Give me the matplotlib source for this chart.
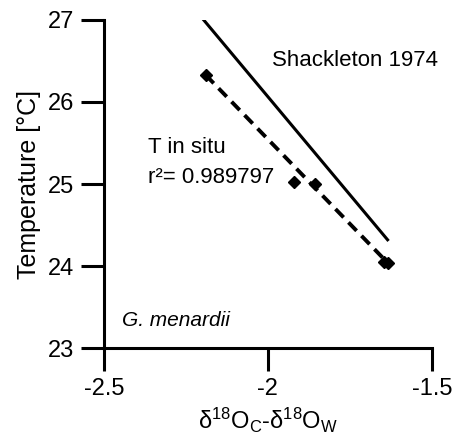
import matplotlib.pyplot as plt

plt.rcParams['font.family'] = ['Liberation Sans', 'DejaVu Sans']
plt.rcParams['mathtext.fontset'] = 'custom'
plt.rcParams['mathtext.rm'] = 'Liberation Sans'
plt.rcParams['mathtext.it'] = 'Liberation Sans:italic'

# measured points (T in situ)
d18o_diff = [-2.19, -1.92, -1.855, -1.645, -1.635]
temp_insitu = [26.33, 25.02, 25.0, 24.05, 24.04]

# regression line through the in situ points
fit_x = [-2.19, -1.635]
fit_y = [26.33, 24.04]

# Shackleton 1974 paleotemperature line
shack_x = [-2.2, -1.635]
shack_y = [27.02, 24.32]

xticks = [-2.5, -2, -1.5]
xtick_labels = ['-2.5', '-2', '-1.5']
yticks = [23, 24, 25, 26, 27]

fig = plt.figure(figsize=(4.56, 4.34), dpi=100)
ax = fig.add_axes([0.228, 0.198, 0.719, 0.756])

ax.plot(shack_x, shack_y, color='black', linewidth=2.2)
ax.plot(fit_x, fit_y, color='black', linewidth=2.8, linestyle=(0, (3, 1.8)))
ax.plot(d18o_diff, temp_insitu, linestyle='none', marker='D', markersize=6,
        color='black')

ax.set_xlim(-2.5, -1.5)
ax.set_ylim(23, 27)
ax.set_xticks(xticks)
ax.set_xticklabels(xtick_labels)
ax.set_yticks(yticks)

for side in ['top', 'right']:
    ax.spines[side].set_visible(False)
for side in ['left', 'bottom']:
    ax.spines[side].set_linewidth(2.2)
ax.tick_params(axis='both', length=16.5, width=2.2, labelsize=17, pad=5)

ax.text(-1.735, 26.51, 'Shackleton 1974', fontsize=16, ha='center', va='center')
ax.text(-2.366, 25.45, 'T in situ', fontsize=16, ha='left', va='center')
ax.text(-2.366, 25.08, 'r²= 0.989797', fontsize=16, ha='left', va='center')
ax.text(-2.445, 23.33, 'G. menardii', fontsize=15, style='italic',
        ha='left', va='center')

ax.set_ylabel('Temperature [°C]', fontsize=18, labelpad=5)
ax.set_xlabel(r'$\mathregular{\delta^{18}O_C}$-$\mathregular{\delta^{18}O_W}$',
              fontsize=17, labelpad=4)

fig.savefig('out.png', dpi=100)
